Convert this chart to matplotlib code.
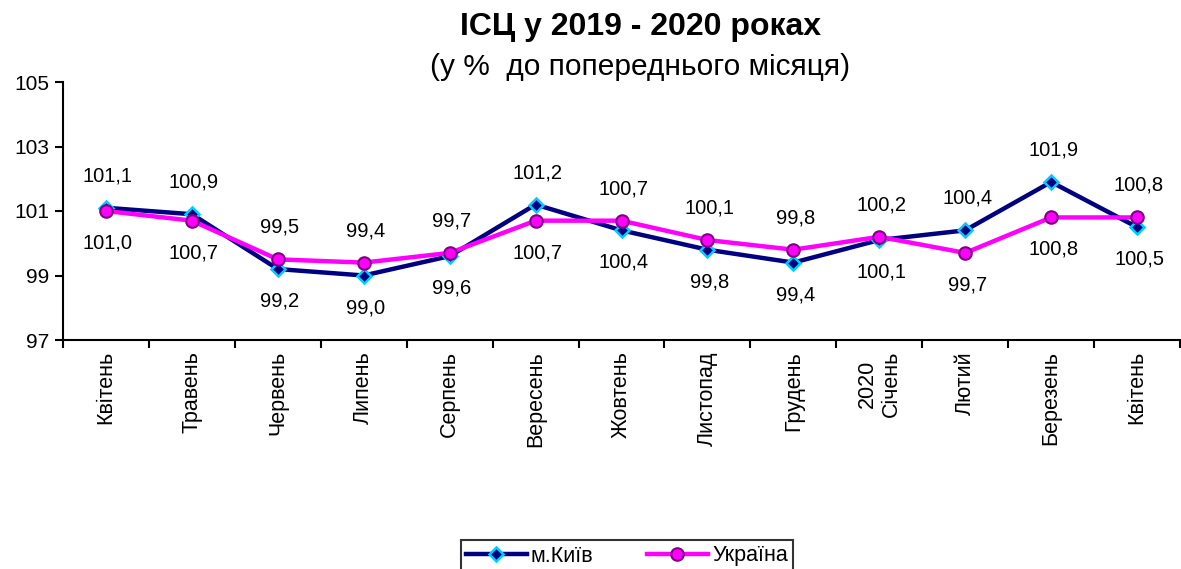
import matplotlib
matplotlib.use("Agg")
import matplotlib.pyplot as plt
import numpy as np

plt.rcParams['font.family'] = ['Liberation Sans', 'DejaVu Sans']

months = ["Квітень", "Травень", "Червень", "Липень", "Серпень", "Вересень",
          "Жовтень", "Листопад", "Грудень", "2020\nСічень", "Лютий", "Березень", "Квітень"]
kyiv = [101.1, 100.9, 99.2, 99.0, 99.6, 101.2, 100.4, 99.8, 99.4, 100.1, 100.4, 101.9, 100.5]
ukraine = [101.0, 100.7, 99.5, 99.4, 99.7, 100.7, 100.7, 100.1, 99.8, 100.2, 99.7, 100.8, 100.8]
# label placement: +1 above, -1 below
kyiv_pos = [1, 1, -1, -1, -1, 1, -1, -1, -1, -1, 1, 1, -1]
ukr_pos = [-1, -1, 1, 1, 1, -1, 1, 1, 1, 1, -1, -1, 1]

fig = plt.figure(figsize=(11.81, 5.69), dpi=100)
ax = fig.add_axes([63/1181, 1-340/569, (1180-63)/1181, (340-82)/569])

x = np.arange(len(months))
ax.plot(x, kyiv, color='#000080', lw=3.2, marker='D', ms=7.5,
        mfc='#000080', mec='#00CCFF', mew=1.8, label='м.Київ', zorder=3)
ax.plot(x, ukraine, color='#FF00FF', lw=3.2, marker='o', ms=9,
        mfc='#FF00FF', mec='#800080', mew=1.5, label='Україна', zorder=4)

def fmt(v):
    return f"{v:.1f}".replace('.', ',')

for i in range(len(x)):
    ax.annotate(fmt(kyiv[i]), (x[i], kyiv[i]), xytext=(2, 32*kyiv_pos[i]),
                textcoords='offset pixels', ha='center', va='center', fontsize=14.5)
    ax.annotate(fmt(ukraine[i]), (x[i], ukraine[i]), xytext=(2, 32*ukr_pos[i]),
                textcoords='offset pixels', ha='center', va='center', fontsize=14.5)

ax.set_xlim(-0.5, len(months)-0.5)
ax.set_ylim(97, 105)
ax.set_yticks([97, 99, 101, 103, 105])
ax.set_yticklabels(['97', '99', '101', '103', '105'], fontsize=15)
ax.set_xticks(x)
ax.set_xticklabels(months, rotation=90, fontsize=15.5, va='top', ha='center', multialignment='center')
ax.set_xticks(np.arange(-0.5, len(months)), minor=True)
ax.tick_params(axis='x', which='major', length=0, pad=8)
ax.tick_params(axis='x', which='minor', length=6, width=1.5, direction='out')
ax.tick_params(axis='y', length=6, width=1.5, direction='out', pad=4)
for s in ['top', 'right']:
    ax.spines[s].set_visible(False)
for s in ['left', 'bottom']:
    ax.spines[s].set_linewidth(1.5)

fig.text(641/1181, 1-27/569, "ІСЦ у 2019 - 2020 роках", ha='center', va='center',
         fontsize=23, fontweight='bold')
fig.text(640/1181, 1-67/569, "(у %  до попереднього місяця)", ha='center', va='center',
         fontsize=21.5)

leg = fig.legend(loc='center', bbox_to_anchor=(627/1181, 1-556/569), ncol=2,
                 fontsize=15.5, frameon=True, fancybox=False, edgecolor='black',
                 handlelength=2.8, columnspacing=2.5, borderpad=0.25, handletextpad=0.2,
                 borderaxespad=0)
leg.get_frame().set_linewidth(1.5)

fig.savefig("out.png", dpi=100)
